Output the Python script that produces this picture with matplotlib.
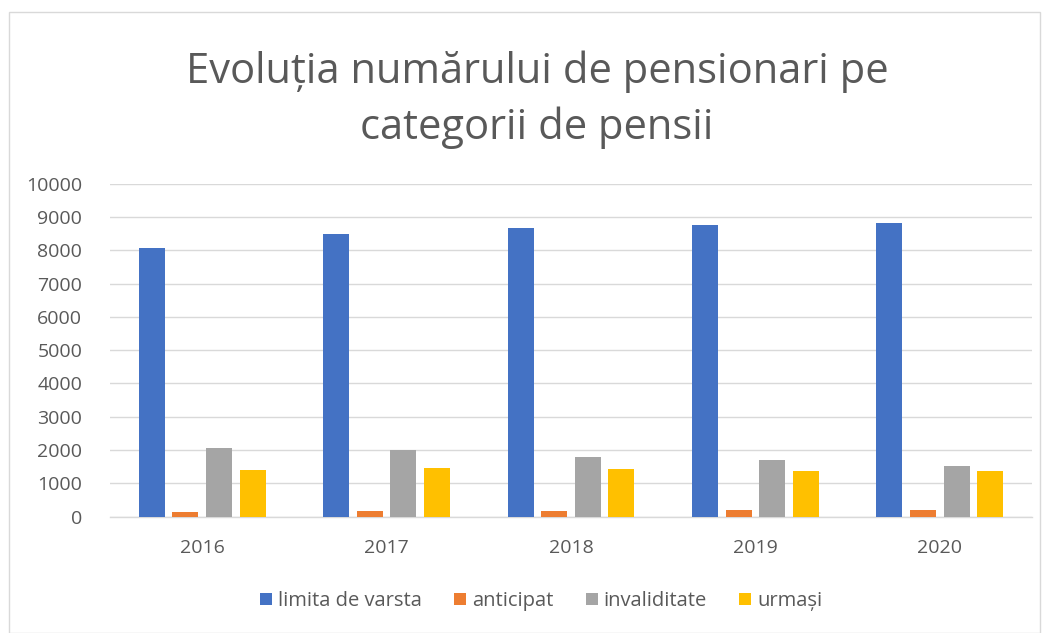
import matplotlib.pyplot as plt
import numpy as np
from matplotlib.patches import Rectangle

years = ["2016", "2017", "2018", "2019", "2020"]
limita = [8080, 8480, 8680, 8760, 8830]
anticipat = [140, 180, 180, 210, 210]
invaliditate = [2060, 2006, 1790, 1690, 1520]
urmasi = [1410, 1470, 1430, 1370, 1370]

series = [
    ("limita de varsta", limita, "#4472C4"),
    ("anticipat", anticipat, "#ED7D31"),
    ("invaliditate", invaliditate, "#A5A5A5"),
    ("urmași", urmasi, "#FFC000"),
]

plt.rcParams['font.family'] = ['Open Sans', 'DejaVu Sans']

fig = plt.figure(figsize=(10.48, 6.33), dpi=100)
ax = fig.add_axes([110 / 1048, (633 - 516.5) / 633, 922 / 1048, 332.8 / 633])

x = np.arange(len(years))
step = 0.182
width = 0.141
for i, (name, vals, col) in enumerate(series):
    ax.bar(x + (i - 1.5) * step, vals, width, color=col, label=name, zorder=3)

ax.set_xlim(-0.5, len(years) - 0.5)
ax.set_ylim(0, 10000)
ax.set_yticks(range(0, 10001, 1000))
ax.set_xticks(x)
ax.set_xticklabels(years)
ax.yaxis.grid(True, color="#d9d9d9", linewidth=1, zorder=0)
for s in ["top", "right", "left"]:
    ax.spines[s].set_visible(False)
ax.spines["bottom"].set_color("#d9d9d9")
ax.spines["bottom"].set_linewidth(1)
ax.tick_params(axis="both", length=0, labelsize=14, colors="#595959")
ax.tick_params(axis="y", pad=20)
ax.tick_params(axis="x", pad=16)

fig.text(537 / 1048, 1 - 100 / 633, "Evoluția numărului de pensionari pe\ncategorii de pensii",
         ha="center", va="center", fontsize=30, color="#595959", linespacing=1.42)

leg = fig.legend(loc="center", bbox_to_anchor=(541 / 1048, 1 - 601 / 633), ncol=4,
                 frameon=False, fontsize=14.5, handlelength=0.6, handleheight=0.6,
                 handletextpad=0.3, columnspacing=1.6)
for t in leg.get_texts():
    t.set_color("#595959")

fig.patches.append(Rectangle((9 / 1048, 0), 1031 / 1048, 1 - 12 / 633, transform=fig.transFigure,
                             fill=False, edgecolor="#d9d9d9", linewidth=1))

fig.savefig("out.png", dpi=100)
